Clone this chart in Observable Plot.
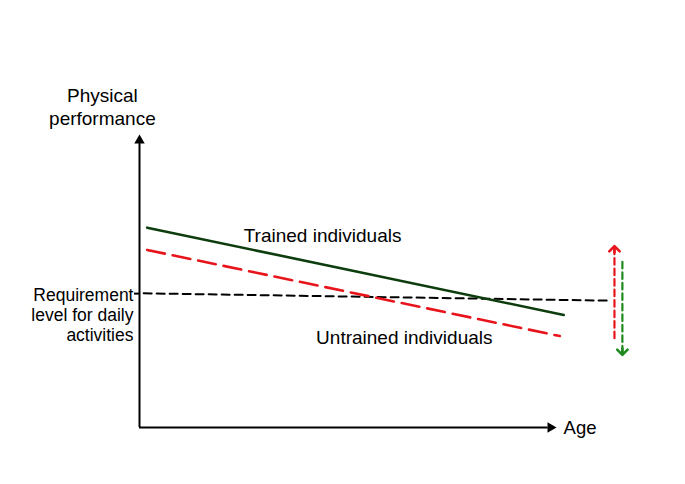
<!DOCTYPE html>
<html>
<head>
<meta charset="utf-8">
<script src="https://cdn.jsdelivr.net/npm/d3@7"></script>
<script src="https://cdn.jsdelivr.net/npm/@observablehq/plot@0.6"></script>
<style>
  html, body { margin: 0; padding: 0; background: white; }
</style>
</head>
<body>
<div id="chart"></div>
<script>
// Conceptual scales: age 0–100 along x, physical performance 0–100 along y
const trainedAge = [1.85, 101.75];
const trainedPerf = [68.2, 38.4];
const untrainedAge = [1.85, 100.8];
const untrainedPerf = [60.6, 31.2];
const requirementAge = [1.0, 112.2];
const requirementPerf = [45.8, 43.3];
const requirementLevel = [45.7];

// Vertical indicator arrows at the right
const redArrowAge = [113.9, 113.9];
const redArrowPerf = [30.5, 61.0];
const greenArrowAge = [115.8, 115.8];
const greenArrowPerf = [56.5, 25.7];

// Axis extents
const axisAgeMax = 100;
const axisPerfMax = 100;

// Labels
const yTitle = ["Physical\nperformance"];
const yTitleAge = [-8.9];
const yTitlePerf = [109.6];
const xTitle = ["Age"];
const xTitleAge = [101.7];
const xTitlePerf = [-0.3];
const trainedLabel = ["Trained individuals"];
const trainedLabelAge = [43.9];
const trainedLabelPerf = [65.4];
const untrainedLabel = ["Untrained individuals"];
const untrainedLabelAge = [63.5];
const untrainedLabelPerf = [30.5];
const reqLabel = ["Requirement\nlevel for daily\nactivities"];
const reqLabelAge = [-1.44];
const reqLabelPerf = [38.6];

const font = "'Liberation Sans', Arial, Helvetica, sans-serif";

function tipSegment(xs, ys) {
  // short solid segment ending at the arrow tip, carrying the arrowhead marker
  const x1 = xs[1], y1 = ys[1];
  const x0 = xs[0] + (xs[1] - xs[0]) * 0.96;
  const y0 = ys[0] + (ys[1] - ys[0]) * 0.96;
  return {x: [x0, x1], y: [y0, y1]};
}
const redTip = tipSegment(redArrowAge, redArrowPerf);
const greenTip = tipSegment(greenArrowAge, greenArrowPerf);

const chart = Plot.plot({
  width: 685,
  height: 484,
  marginLeft: 139,
  marginRight: 129,
  marginTop: 134,
  marginBottom: 57,
  x: {domain: [0, axisAgeMax], axis: null},
  y: {domain: [0, axisPerfMax], axis: null},
  style: {fontFamily: font, background: "white", overflow: "visible"},
  marks: [
    // axes
    Plot.ruleX([0], {y1: 0, y2: axisPerfMax - 3, stroke: "black", strokeWidth: 2}),
    Plot.ruleY([0], {x1: 0, x2: axisAgeMax - 2, stroke: "black", strokeWidth: 2}),
    Plot.dot([axisPerfMax], {x: 0, y: d => d, symbol: "triangle2", r: 5, fill: "black", dy: 6}),
    Plot.dot([axisAgeMax], {x: d => d, y: 0, symbol: "triangle2", r: 5, fill: "black", rotate: 90, dx: -6}),
    // requirement tick
    Plot.ruleY(requirementLevel, {x1: -1.2, x2: 0, stroke: "black", strokeWidth: 2}),
    // requirement dashed line
    Plot.line(requirementPerf, {x: requirementAge, y: requirementPerf, stroke: "black", strokeWidth: 2, strokeDasharray: "8,5"}),
    // untrained
    Plot.line(untrainedPerf, {x: untrainedAge, y: untrainedPerf, stroke: "#e8141b", strokeWidth: 2.6, strokeDasharray: "18,8"}),
    // trained
    Plot.line(trainedPerf, {x: trainedAge, y: trainedPerf, stroke: "#0d3d0d", strokeWidth: 2.6}),
    // indicator arrows
    Plot.line(redArrowPerf, {x: redArrowAge, y: redArrowPerf, stroke: "#e8141b", strokeWidth: 2.2, strokeDasharray: "6.5,4"}),
    Plot.line(redTip.y, {x: redTip.x, y: redTip.y, stroke: "#e8141b", strokeWidth: 2.6, markerEnd: "arrow"}),
    Plot.line(greenArrowPerf, {x: greenArrowAge, y: greenArrowPerf, stroke: "#1f8a1f", strokeWidth: 2.2, strokeDasharray: "6.5,4"}),
    Plot.line(greenTip.y, {x: greenTip.x, y: greenTip.y, stroke: "#1f8a1f", strokeWidth: 2.6, markerEnd: "arrow"}),
    // labels
    Plot.text(yTitle, {x: yTitleAge, y: yTitlePerf, text: d => d, fontSize: 19, lineHeight: 1.2, textAnchor: "middle", fill: "black"}),
    Plot.text(xTitle, {x: xTitleAge, y: xTitlePerf, text: d => d, fontSize: 18.5, textAnchor: "start", fill: "black"}),
    Plot.text(trainedLabel, {x: trainedLabelAge, y: trainedLabelPerf, text: d => d, fontSize: 19, textAnchor: "middle", fill: "black"}),
    Plot.text(untrainedLabel, {x: untrainedLabelAge, y: untrainedLabelPerf, text: d => d, fontSize: 19, textAnchor: "middle", fill: "black"}),
    Plot.text(reqLabel, {x: reqLabelAge, y: reqLabelPerf, text: d => d, fontSize: 17.5, lineHeight: 1.15, textAnchor: "end", fill: "black"})
  ]
});
document.getElementById("chart").appendChild(chart);
</script>
</body>
</html>
